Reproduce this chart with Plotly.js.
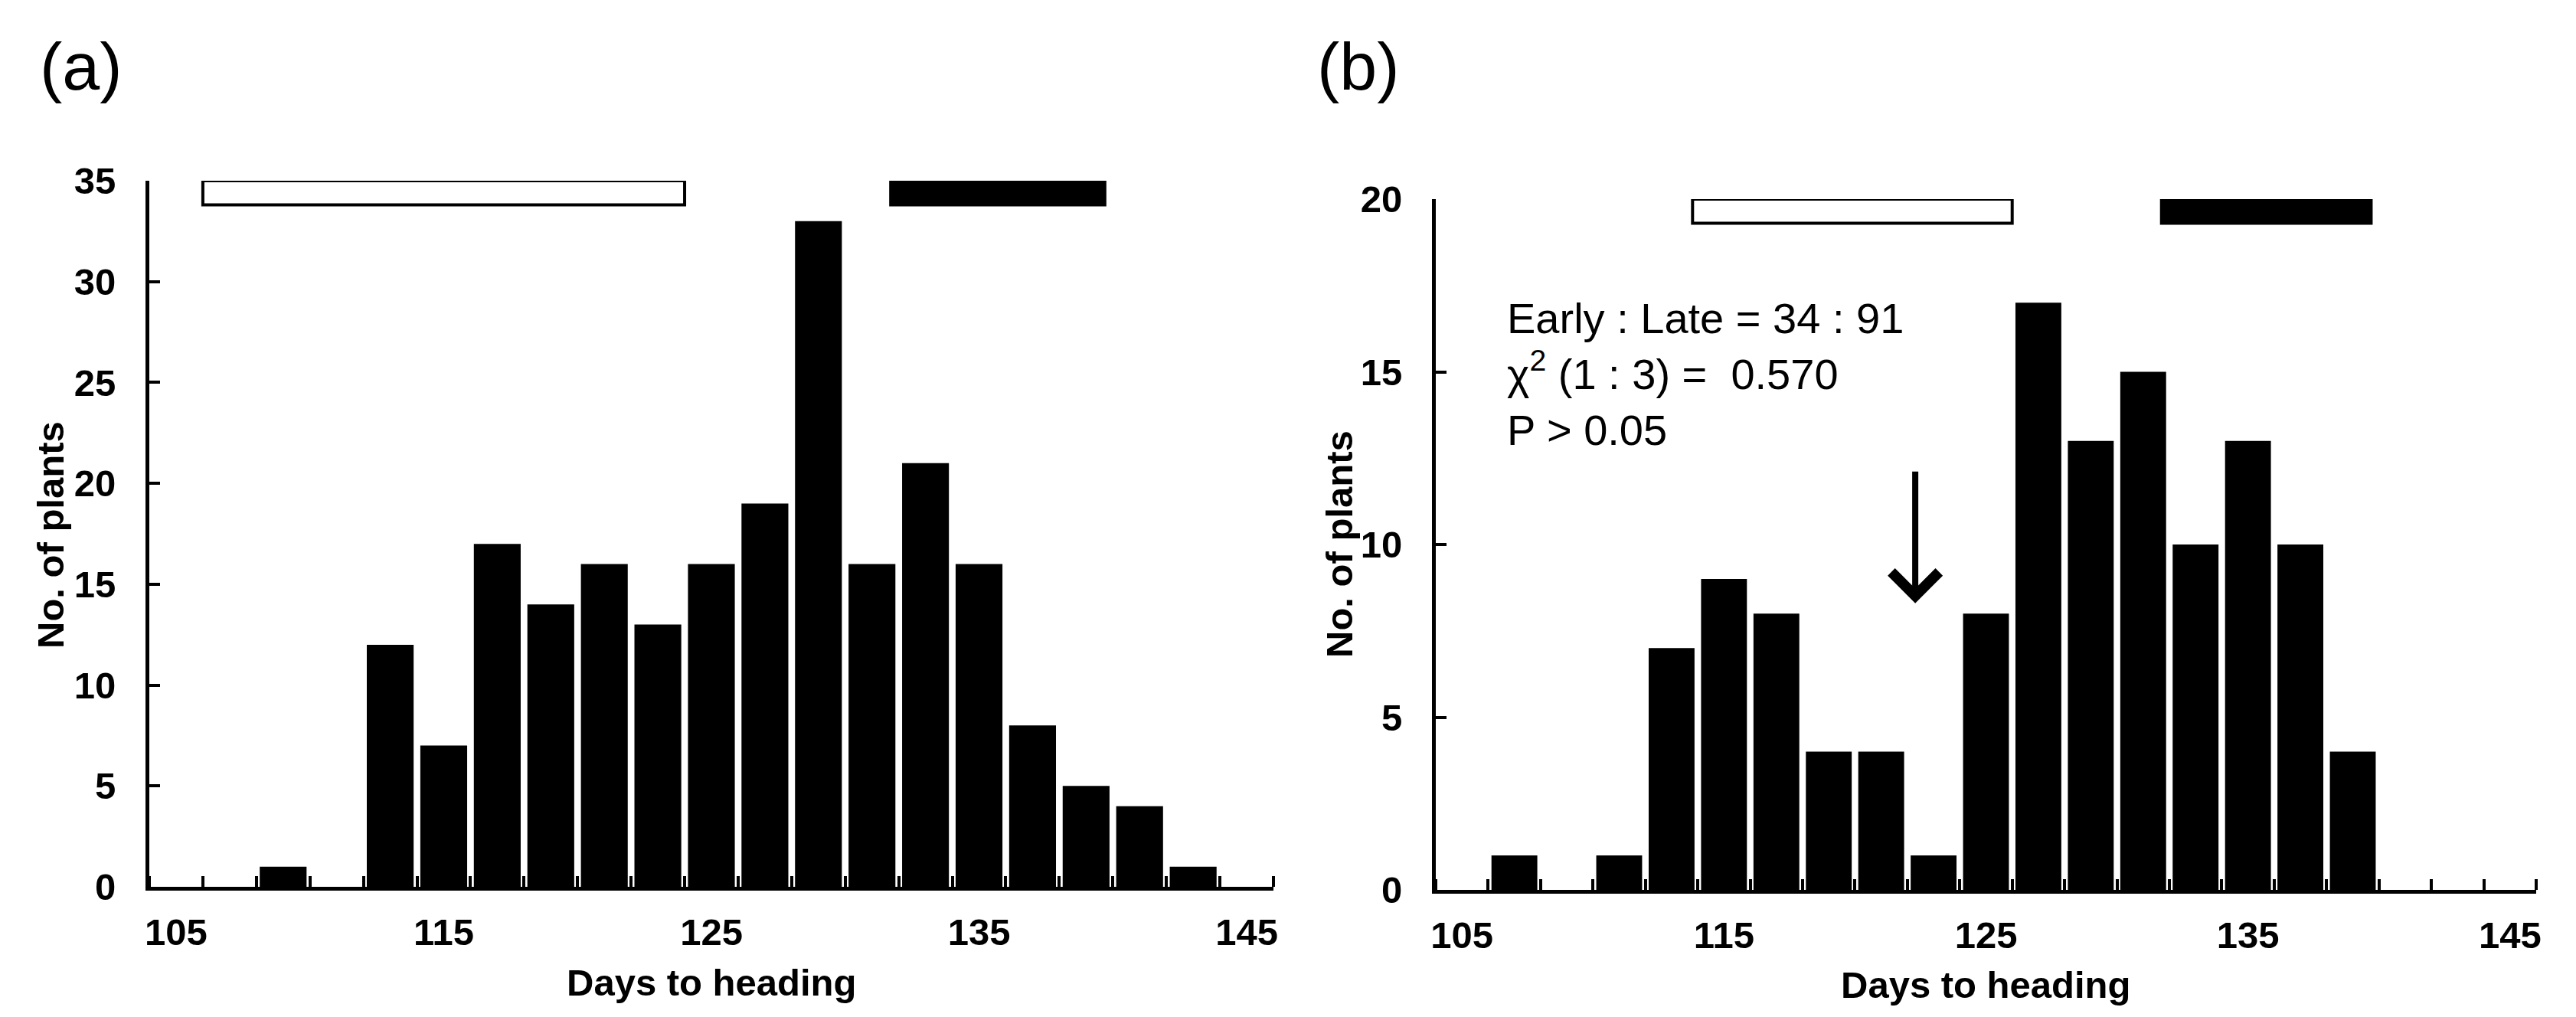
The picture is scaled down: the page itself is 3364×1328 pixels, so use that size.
<!DOCTYPE html>
<html>
<head>
<meta charset="utf-8">
<script src="https://cdn.plot.ly/plotly-3.0.1.min.js"></script>
<style>
  html, body { margin: 0; padding: 0; background: #fff; }
  #headingChart { width: 3364px; height: 1328px; }
</style>
</head>
<body>
<div id="headingChart"></div>
<script>
// bin centres (days to heading, 2-day bins)
const dayBins = [105, 107, 109, 111, 113, 115, 117, 119, 121, 123, 125, 127, 129, 131, 133, 135, 137, 139, 141, 143, 145];
const plantsA = [0, 0, 1, 0, 12, 7, 17, 14, 16, 13, 16, 19, 33, 16, 21, 16, 8, 5, 4, 1, 0];
const plantsB = [0, 1, 0, 1, 7, 9, 8, 4, 4, 1, 8, 17, 13, 15, 10, 13, 10, 4, 0, 0, 0];

// parental ranges drawn as bars at the top of each panel
const earlyRangeA = [106, 124];
const lateRangeA = [131.7, 139.7];
const earlyRangeB = [113.8, 126];
const lateRangeB = [131.7, 139.7];

const xTickVals = [105, 115, 125, 135, 145];
const statLines = ["Early : Late = 34 : 91", "χ<sup>2</sup> (1 : 3) =&nbsp; 0.570", "P > 0.05"];
const arrowDay = 122.3;
const arrowFrom = 12.3;
const arrowTo = 8.3;

const W = 3364, H = 1328;
const fontFamily = "Liberation Sans, Arial, sans-serif";
const boldFont = { family: fontFamily, size: 49, color: "#000", weight: "bold" };

const barStyle = {
    type: "bar",
    x: dayBins,
    width: 1.75,
    marker: { color: "#000", line: { width: 0 } },
    hoverinfo: "x+y"
};

const data = [
    { ...barStyle, y: plantsA, xaxis: "x", yaxis: "y" },
    { ...barStyle, y: plantsB, xaxis: "x2", yaxis: "y2" }
];

function xAxisConfig(domain, anchor) {
    return {
        domain: domain,
        anchor: anchor,
        range: [104, 146],
        tickmode: "array",
        tickvals: xTickVals,
        ticks: "",
        ticklabelstandoff: 12,
        tickfont: boldFont,
        showline: true,
        linewidth: 5,
        linecolor: "#000",
        showgrid: false,
        zeroline: false,
        fixedrange: true,
        minor: { tick0: 104, dtick: 2, ticks: "inside", ticklen: 14, tickwidth: 4, tickcolor: "#000", showgrid: false }
    };
}

function yAxisConfig(domain, anchor, top) {
    return {
        domain: domain,
        anchor: anchor,
        range: [0, top],
        dtick: 5,
        ticks: "inside",
        ticklen: 14,
        tickwidth: 4,
        tickcolor: "#000",
        ticklabelstandoff: 29,
        tickfont: boldFont,
        showline: true,
        linewidth: 5,
        linecolor: "#000",
        showgrid: false,
        zeroline: false,
        fixedrange: true
    };
}

function rangeBar(range, xref, yref, yTop, yBottom, filled) {
    return {
        type: "rect", xref: xref, yref: yref,
        x0: range[0], x1: range[1], y0: yBottom, y1: yTop,
        fillcolor: filled ? "#000" : "#fff",
        line: { color: "#000", width: 4 },
        layer: "above"
    };
}

function textNote(text, px, py, extra) {
    return Object.assign({
        text: text, xref: "paper", yref: "paper",
        x: px / W, y: 1 - py / H,
        showarrow: false,
        font: boldFont
    }, extra || {});
}

const layout = {
    width: W,
    height: H,
    margin: { l: 0, r: 0, t: 0, b: 0 },
    paper_bgcolor: "#fff",
    plot_bgcolor: "#fff",
    showlegend: false,
    font: { family: fontFamily, color: "#000" },
    xaxis: xAxisConfig([195 / W, 1663 / W], "y"),
    yaxis: yAxisConfig([1 - 1158 / H, 1 - 236 / H], "x", 35),
    xaxis2: xAxisConfig([1875 / W, 3312 / W], "y2"),
    yaxis2: yAxisConfig([1 - 1162 / H, 1 - 260 / H], "x2", 20),
    shapes: [
        rangeBar(earlyRangeA, "x", "y", 35, 33.8, false),
        rangeBar(lateRangeA, "x", "y", 35, 33.8, true),
        rangeBar(earlyRangeB, "x2", "y2", 20, 19.3, false),
        rangeBar(lateRangeB, "x2", "y2", 20, 19.3, true)
    ],
    annotations: [
        textNote("(a)", 50, 86, { xanchor: "left", yanchor: "middle", font: { family: fontFamily, size: 88, color: "#000" } }),
        textNote("(b)", 1718, 86, { xanchor: "left", yanchor: "middle", font: { family: fontFamily, size: 88, color: "#000" } }),
        textNote("Days to heading", 929, 1283, { xanchor: "center", yanchor: "middle" }),
        textNote("Days to heading", 2593, 1286, { xanchor: "center", yanchor: "middle" }),
        textNote("No. of plants", 66, 699, { xanchor: "center", yanchor: "middle", textangle: -90 }),
        textNote("No. of plants", 1749, 711, { xanchor: "center", yanchor: "middle", textangle: -90 }),
        textNote(statLines.join("<br>"), 1966, 382, {
            xanchor: "left", yanchor: "top", align: "left",
            font: { family: fontFamily, size: 56, color: "#000" }
        }),
        {
            xref: "x2", yref: "y2", axref: "x2", ayref: "y2",
            x: arrowDay, y: arrowTo, ax: arrowDay, ay: arrowFrom,
            text: " ", showarrow: true,
            arrowhead: 4, arrowsize: 1.5, arrowwidth: 8, arrowcolor: "#000"
        }
    ]
};

Plotly.newPlot("headingChart", data, layout, { staticPlot: true, displayModeBar: false });
</script>
</body>
</html>
